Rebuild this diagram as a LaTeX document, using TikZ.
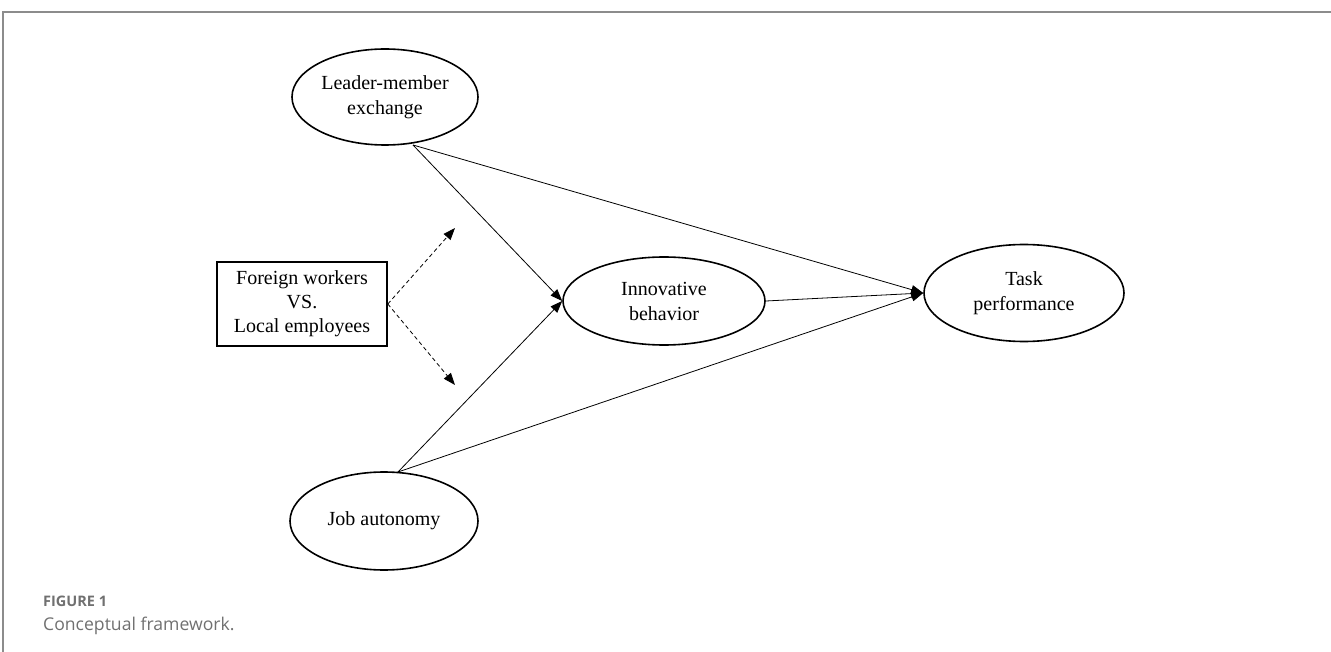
\documentclass[tikz,border=0pt]{standalone}
\usepackage{fontspec}
\setmainfont{Liberation Serif}
\newfontfamily\capfont{Open Sans}
\usetikzlibrary{shapes.geometric,arrows.meta}
\definecolor{framegray}{HTML}{8C8C8C}
\definecolor{capgray}{HTML}{707070}
\tikzset{
  construct/.style={draw, ellipse, line width=1.6pt, inner sep=0pt, align=center,
    font=\fontsize{20}{25}\selectfont},
  modbox/.style={draw, rectangle, line width=1.6pt, inner sep=0pt, align=center,
    minimum width=170pt, minimum height=84pt, font=\fontsize{20}{24}\selectfont},
  path/.style={line width=0.8pt, -{Triangle[length=12pt,width=9pt]}},
  modpath/.style={line width=0.8pt, dashed, dash pattern=on 4pt off 3pt, -{Triangle[length=12pt,width=9pt]}},
}
\begin{document}
\begin{tikzpicture}[x=1pt,y=-1pt]
\useasboundingbox (0,0) rectangle (1331,652);
% frame
\draw[framegray, line width=1.2pt] (3,652) -- (3,12) -- (1331,12);
% nodes
\node[construct, minimum width=186pt, minimum height=96pt] (lmx) at (385,97) {Leader-member\\exchange};
\node[construct, minimum width=188pt, minimum height=98pt] (ja) at (384,521) {Job autonomy};
\node[construct, minimum width=202pt, minimum height=88pt] (ib) at (664,301) {Innovative\\behavior};
\node[construct, minimum width=200pt, minimum height=97pt] (tp) at (1024,293) {Task\\performance};
\node[modbox] (mod) at (302,304) {Foreign workers\\VS.\\Local employees};
% start points and free ends
\coordinate (lmxo) at (413,145);
\coordinate (jao) at (398,472);
\coordinate (modup) at (455,228);
\coordinate (moddn) at (455,385);
% connectors
\draw[path] (lmxo) -- (ib.west);
\draw[path] (lmxo) -- (tp.west);
\draw[path] (jao) -- (ib.west);
\draw[path] (jao) -- (tp.west);
\draw[path] (ib.east) -- (tp.west);
\draw[modpath] (mod.east) -- (modup);
\draw[modpath] (mod.east) -- (moddn);
% caption
\node[anchor=base west, inner sep=0pt, text=capgray, font=\capfont\bfseries\fontsize{14.5}{16}\selectfont] (fig) at (43,606) {FIGURE 1};
\node[anchor=base west, inner sep=0pt, text=capgray, font=\capfont\fontsize{17.6}{20}\selectfont] (cap) at (43,630) {Conceptual framework.};
\end{tikzpicture}
\end{document}
